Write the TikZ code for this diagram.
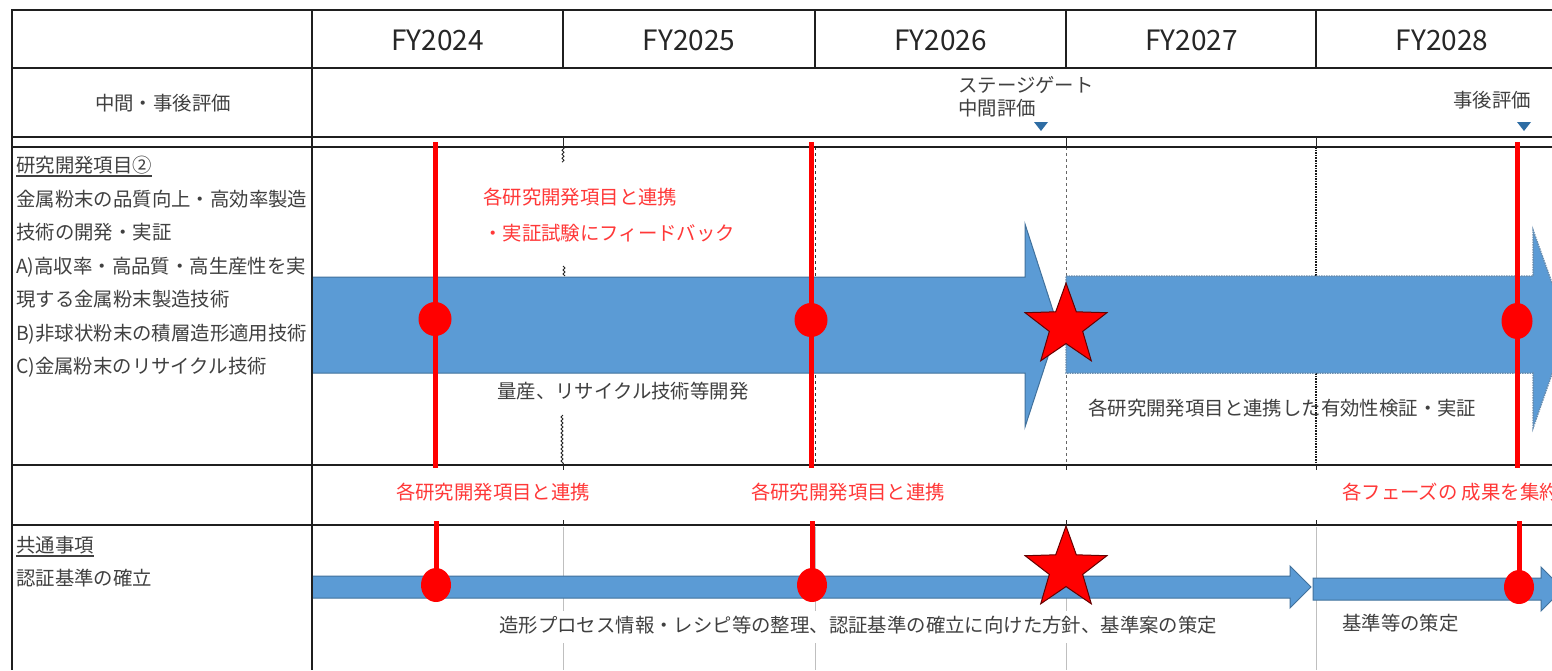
\documentclass[tikz,border=0pt]{standalone}
\usepackage{fontspec}
\setmainfont{Noto Sans CJK JP}
\usetikzlibrary{shapes.geometric,decorations.pathmorphing}
\definecolor{txt}{HTML}{404040}
\definecolor{arrowblue}{HTML}{5B9BD5}
\definecolor{arrowedge}{HTML}{41719C}
\definecolor{mred}{HTML}{FF0000}
\definecolor{redtxt}{HTML}{FF3838}
\definecolor{tricol}{HTML}{2E6DA4}
\begin{document}
\begin{tikzpicture}[x=1pt,y=-1pt,
  gridline/.style={line width=1.8pt, draw=black!88},
  jp/.style={font=\fontsize{19.4}{22}\selectfont, text=txt, inner sep=0pt},
  jpred/.style={font=\fontsize{19.4}{22}\selectfont, text=redtxt, inner sep=0pt},
  fy/.style={font=\fontsize{28}{32}\selectfont, text=black!85, inner sep=0pt},
  redline/.style={line width=5pt, draw=mred},
  reddot/.style={ellipse, fill=mred, inner sep=0pt, minimum width=33pt, minimum height=34pt},
  starmark/.style={star, star points=5, star point ratio=2.45, fill=mred, draw=black!60!red, line width=1pt, inner sep=0pt, minimum size=86pt},
  barrow/.style={fill=arrowblue, draw=arrowedge, line width=1pt},
  darrow/.style={fill=arrowblue, draw=arrowedge!80, densely dotted, line width=1.5pt},
  evaltri/.style={fill=tricol, draw=none},
  coldash/.style={draw=black!80, line width=0.8pt, dashed},
  coldot/.style={draw=black!90, line width=1.6pt, densely dotted},
  graycol/.style={draw=black!25, line width=1pt},
]
\useasboundingbox (0,0) rectangle (1552,670);
\fill[white] (0,0) rectangle (1552,670);

% column dividers inside rows (below arrows)
\draw[black!85, line width=1pt, decorate, decoration={snake, amplitude=1pt, segment length=4pt}]
  (563,147) -- (563,161) (563,266) -- (563,277) (563,415) -- (563,465);
\draw[coldash] (815,147) -- (815,465);
\draw[coldash, draw=black!60] (1066,147) -- (1066,465);
\draw[coldot] (1316,147) -- (1316,465);
\foreach \xx in {563,815,1066,1316} \draw[graycol] (\xx,527) -- (\xx,670);

% arrows, row 3
\path[barrow] (312,277) -- (1025,277) -- (1025,224) -- (1058,326) -- (1025,427) -- (1025,373) -- (312,373) -- cycle;
\path[darrow] (1066,276) -- (1533,276) -- (1533,230) -- (1568,328) -- (1533,428) -- (1533,373) -- (1066,373) -- cycle;
% arrows, bottom row
\path[barrow] (312,576) -- (1290,576) -- (1290,566) -- (1311,587) -- (1290,608) -- (1290,598) -- (312,598) -- cycle;
\path[barrow] (1313,578) -- (1541,578) -- (1541,567) -- (1563,589) -- (1541,611) -- (1541,600) -- (1313,600) -- cycle;

% grid
\draw[gridline] (12,10) -- (1560,10);
\draw[gridline] (12,68) -- (1560,68);
\draw[gridline] (12,137) -- (1560,137);
\draw[gridline] (12,147) -- (1560,147);
\draw[gridline] (12,465) -- (1560,465);
\draw[gridline] (12,525) -- (1560,525);
\draw[gridline] (12,9) -- (12,670);
\draw[gridline] (312,9) -- (312,670);
\foreach \xx in {563,815,1066,1316} \draw[gridline] (\xx,10) -- (\xx,68);
\foreach \xx in {563,1066,1316} {
  \draw[black!85, line width=0.8pt] (\xx,137) -- (\xx,147);
  \draw[black!85, line width=0.8pt] (\xx,465) -- (\xx,470);
  \draw[black!85, line width=0.8pt] (\xx,520) -- (\xx,525);
}

% header
\node[fy] (fy24) at (437.5,40) {FY2024};
\node[fy] (fy25) at (689,40) {FY2025};
\node[fy] (fy26) at (940.5,40) {FY2026};
\node[fy] (fy27) at (1191.5,40) {FY2027};
\node[fy] (fy28) at (1442,40) {FY2028};

% evaluation row
\node[jp, anchor=base] (evalhead) at (163,110) {中間・事後評価};
\node[jp, anchor=base west] (sg1) at (958,92) {ステージゲート};
\node[jp, anchor=base west] (sg2) at (958,115) {中間評価};
\node[jp, anchor=base west] (post) at (1453,107) {事後評価};
\path[evaltri] (1034,122) -- (1048,122) -- (1041,131) -- cycle;
\path[evaltri] (1517,122) -- (1531,122) -- (1524,131) -- cycle;

% left column, row 3
\node[jp, anchor=base west] (r3a) at (16,172) {研究開発項目②};
\draw[txt, line width=1.2pt] ([yshift=-4pt]r3a.base west) -- ([yshift=-4pt]r3a.base east);
\node[jp, anchor=base west] (r3b) at (16,206) {金属粉末の品質向上・高効率製造};
\node[jp, anchor=base west] (r3c) at (16,239) {技術の開発・実証};
\node[jp, anchor=base west] (r3d) at (16,273) {A)高収率・高品質・高生産性を実};
\node[jp, anchor=base west] (r3e) at (16,306) {現する金属粉末製造技術};
\node[jp, anchor=base west] (r3f) at (16,340) {B)非球状粉末の積層造形適用技術};
\node[jp, anchor=base west] (r3g) at (16,373) {C)金属粉末のリサイクル技術};

% row 3 texts
\node[jpred, anchor=base west] (fb1) at (483,204) {各研究開発項目と連携};
\node[jpred, anchor=base west] (fb2) at (483,240) {・実証試験にフィードバック};
\node[jp, anchor=base west] (mass) at (497,398) {量産、リサイクル技術等開発};
\node[jp, anchor=base west] (verify) at (1088,415) {各研究開発項目と連携した有効性検証・実証};

% label row
\node[jpred, anchor=base] (link1) at (493,499) {各研究開発項目と連携};
\node[jpred, anchor=base] (link2) at (848,499) {各研究開発項目と連携};
\node[jpred, anchor=base west] (phase) at (1342,499) {各フェーズの 成果を集約};

% bottom row
\node[jp, anchor=base west] (cm1) at (16,552) {共通事項};
\draw[txt, line width=1.2pt] ([yshift=-4pt]cm1.base west) -- ([yshift=-4pt]cm1.base east);
\node[jp, anchor=base west] (cm2) at (16,585) {認証基準の確立};
\node[jp, anchor=base west, fill=white, inner xsep=2pt, text height=15pt, text depth=5pt, inner ysep=6pt] (proc) at (497,632) {造形プロセス情報・レシピ等の整理、認証基準の確立に向けた方針、基準案の策定};
\node[jp, anchor=base west] (std) at (1342,630) {基準等の策定};

% red milestones
\coordinate (t1) at (435,142);
\coordinate (t2) at (811,142);
\coordinate (t3) at (1517,142);
\coordinate (b1) at (435,468);
\coordinate (b2) at (811,468);
\coordinate (b3) at (1517,468);
\draw[redline] (t1) -- (b1);
\draw[redline] (t2) -- (b2);
\draw[redline] (t3) -- (b3);
\node[reddot] (m1) at (435,319) {};
\node[reddot] (m2) at (811,320) {};
\node[reddot, minimum width=31pt, minimum height=36pt] (m3) at (1517,321) {};

\coordinate (u1) at (436,521);
\coordinate (u2) at (812,521);
\coordinate (u3) at (1519,521);
\node[reddot, minimum width=30pt, minimum height=34pt] (n1) at (436,585) {};
\node[reddot, minimum width=30pt, minimum height=34pt] (n2) at (812,585) {};
\node[reddot, minimum width=30pt, minimum height=34pt] (n3) at (1519,587) {};
\draw[redline] (u1) -- (n1.center);
\draw[redline] (u2) -- (n2.center);
\draw[redline] (u3) -- (n3.center);

% stage gate stars
\node[starmark] (s1) at (1066,326) {};
\node[starmark] (s2) at (1066,569) {};
\end{tikzpicture}
\end{document}
